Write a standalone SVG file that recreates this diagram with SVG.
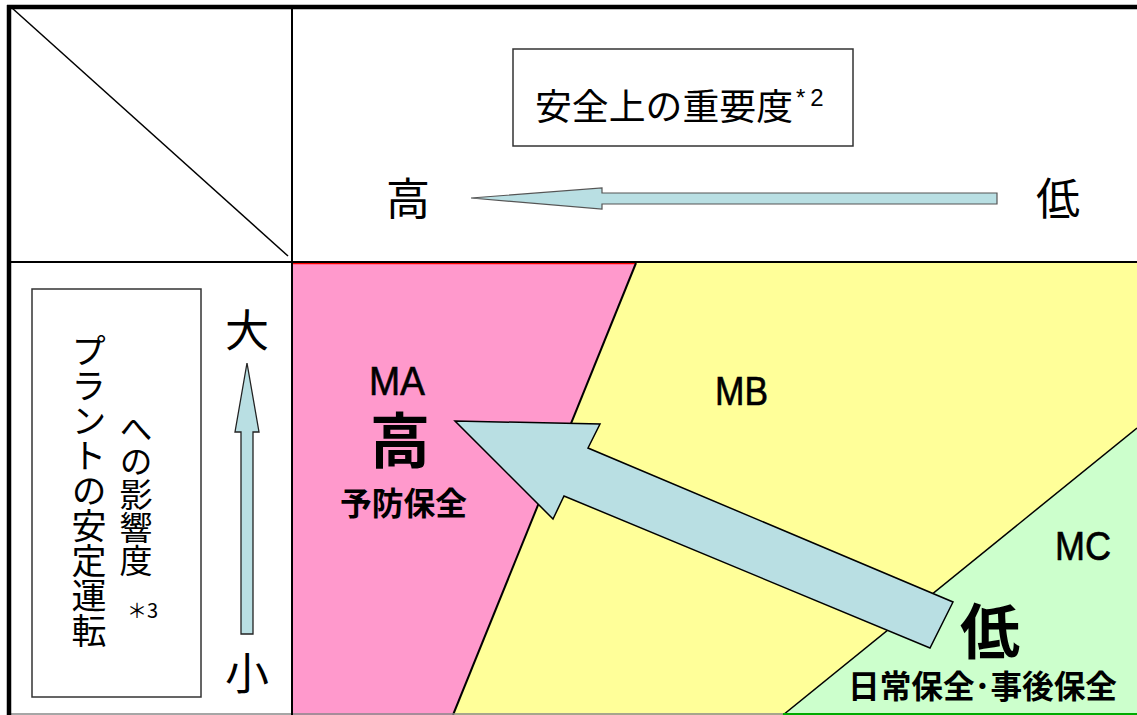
<svg xmlns="http://www.w3.org/2000/svg" width="1137" height="715" viewBox="0 0 1137 715">
<style>
.jp{font-family:"Noto Sans CJK JP","Noto Sans CJK SC",sans-serif;fill:#000}
.b{font-weight:bold}
.lat{font-family:"Liberation Sans",Arial,sans-serif;fill:#000}
.m{stroke:#000;stroke-width:0.6}
.vt{writing-mode:vertical-rl}
.arrow{fill:#b9dfe3}
.box{fill:none;stroke:#333;stroke-width:1.5}
</style>
<rect width="1137" height="715" fill="#fff"/>
<g id="zones">
<polygon points="293,263 636,263 453,715 293,715" fill="#ff99cc"/>
<polygon points="636,263 1137,263 1137,428 783,715 453,715" fill="#ffff99"/>
<polygon points="1137,428 1137,715 783,715" fill="#ccffcc"/>
<line x1="293" y1="263.5" x2="636" y2="263.5" stroke="#ff0000" stroke-width="1.5"/>
<line x1="636" y1="263" x2="453" y2="715" stroke="#000" stroke-width="2"/>
<line x1="1137" y1="428" x2="783" y2="715" stroke="#000" stroke-width="1.5"/>
<line x1="783" y1="714" x2="1137" y2="714" stroke="#00aa00" stroke-width="2"/>
</g>
<g id="frame" stroke="#000" fill="none">
<line x1="9" y1="714" x2="783" y2="714" stroke="#888" stroke-width="1.5"/>
<line x1="7" y1="7" x2="1137" y2="7" stroke-width="4.5"/>
<line x1="9" y1="5" x2="9" y2="715" stroke-width="4.5"/>
<line x1="292" y1="7" x2="292" y2="715" stroke-width="2"/>
<line x1="9" y1="262" x2="1137" y2="262" stroke-width="2"/>
<line x1="12" y1="8" x2="288" y2="256" stroke-width="1.5"/>
</g>
<g id="safety-label">
<rect class="box" x="513" y="49" width="340" height="97"/>
<text class="jp" x="535" y="120" font-size="36" textLength="258" lengthAdjust="spacingAndGlyphs">安全上の重要度</text>
<text class="lat" x="796" y="106" font-size="24" letter-spacing="5">*2</text>
</g>
<g id="top-scale">
<text class="jp" x="408" y="215" font-size="44" text-anchor="middle">高</text>
<text class="jp" x="1058" y="215" font-size="44" text-anchor="middle">低</text>
</g>
<g id="stability-label">
<rect class="box" x="32" y="289" width="169" height="408"/>
<text class="jp vt" x="89" y="333" font-size="35">プラントの安定運転</text>
<text class="jp vt" x="136" y="412" font-size="33">への影響度</text>
<text class="jp" x="127" y="618" font-size="20">＊3</text>
</g>
<g id="side-scale">
<text class="jp" x="247" y="347" font-size="44" text-anchor="middle">大</text>
<text class="jp" x="247" y="690" font-size="44" text-anchor="middle">小</text>
</g>
<g id="MA">
<text class="lat m" x="369" y="395" font-size="40" textLength="56" lengthAdjust="spacingAndGlyphs">MA</text>
<text class="jp b" x="400" y="463" font-size="60" text-anchor="middle">高</text>
<text class="jp b" x="340" y="515" font-size="32" textLength="127" lengthAdjust="spacingAndGlyphs">予防保全</text>
</g>
<g id="MB">
<text class="lat m" x="715" y="405" font-size="40" textLength="53" lengthAdjust="spacingAndGlyphs">MB</text>
</g>
<g id="MC">
<text class="lat m" x="1055" y="560" font-size="40" textLength="56" lengthAdjust="spacingAndGlyphs">MC</text>
<text class="jp b" x="990" y="654" font-size="60" text-anchor="middle">低</text>
<text class="jp b" x="848" y="698" font-size="32" textLength="269" lengthAdjust="spacingAndGlyphs">日常保全･事後保全</text>
</g>
<g id="connectors">
<polygon class="arrow" points="471,198 602,188 602,193 997,193 997,204 602,204 602,209" stroke="#555" stroke-width="1.2"/>
<polygon class="arrow" points="247,363 259,432 253,432 253,634 241,634 241,432 235,432" stroke="#222" stroke-width="1.3"/>
<polygon class="arrow" points="455,421 600,424 588,448 953,602 930,648 564,496 553,519" stroke="#000" stroke-width="1.5"/>
</g>
</svg>
